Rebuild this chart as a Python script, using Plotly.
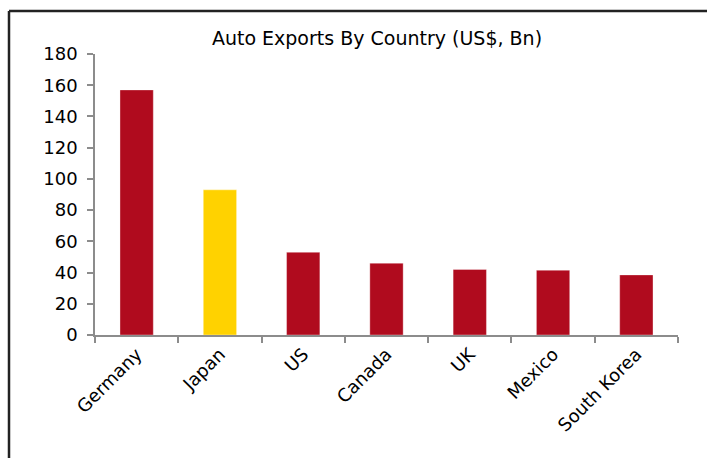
import plotly.graph_objects as go

# Auto exports by country, US$ billions
countries = ["Germany", "Japan", "US", "Canada", "UK", "Mexico", "South Korea"]
exports_bn = [157, 93, 53, 46, 42, 41.5, 38.5]
bar_colors = ["#B00B1E", "#FFD200", "#B00B1E", "#B00B1E", "#B00B1E", "#B00B1E", "#B00B1E"]
y_ticks = list(range(0, 181, 20))

W, H = 707, 458
L, R, T, B = 95, 29, 54, 123
pw, ph = W - L - R, H - T - B


def px_x(px):
    return (px - L) / pw


def px_y(py):
    return (H - B - py) / ph


fig = go.Figure(
    go.Bar(
        x=countries,
        y=exports_bn,
        marker=dict(color=bar_colors, line=dict(color="rgba(255,255,255,0.35)", width=1)),
        hoverinfo="x+y",
    )
)

fig.update_layout(
    width=W,
    height=H,
    margin=dict(l=L, r=R, t=T, b=B),
    paper_bgcolor="white",
    plot_bgcolor="white",
    bargap=0.6,
    showlegend=False,
    title=dict(
        text="Auto Exports By Country (US$, Bn)",
        x=377 / W,
        xanchor="center",
        xref="container",
        y=1 - 38 / H,
        yanchor="middle",
        yref="container",
        font=dict(family="DejaVu Sans", size=19, color="#000000"),
    ),
    xaxis=dict(
        showline=True,
        linecolor="#8C8C8C",
        linewidth=1.5,
        ticks="outside",
        tickson="boundaries",
        ticklen=6,
        tickcolor="#8C8C8C",
        tickwidth=1.5,
        tickangle=-45,
        tickfont=dict(family="DejaVu Sans", size=18, color="#000000"),
        showgrid=False,
    ),
    yaxis=dict(
        range=[0, 180],
        tickvals=y_ticks,
        showline=True,
        linecolor="#8C8C8C",
        linewidth=1.5,
        ticks="outside",
        ticklen=6,
        tickcolor="#8C8C8C",
        tickwidth=1.5,
        ticklabelstandoff=6,
        tickfont=dict(family="DejaVu Sans", size=18, color="#000000"),
        showgrid=False,
        zeroline=False,
    ),
    shapes=[
        # outer frame: top and left edges
        dict(type="line", xref="paper", yref="paper",
             x0=px_x(9), y0=px_y(11), x1=px_x(707), y1=px_y(11),
             line=dict(color="#222222", width=2.5)),
        dict(type="line", xref="paper", yref="paper",
             x0=px_x(9), y0=px_y(11), x1=px_x(9), y1=px_y(458),
             line=dict(color="#222222", width=2.5)),
    ],
)

fig.write_html("out.html")
